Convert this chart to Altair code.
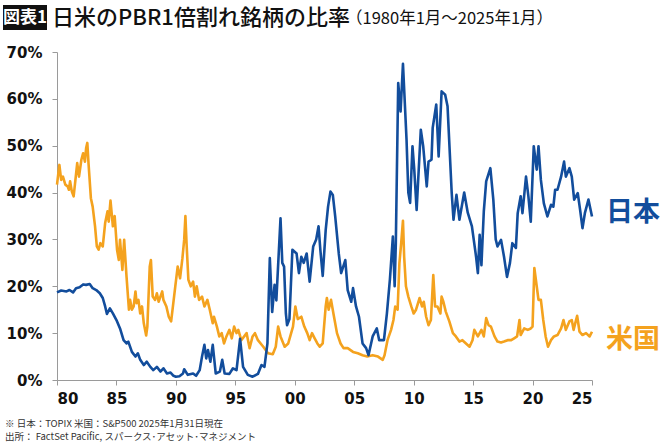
import altair as alt
import pandas as pd

# Share of stocks trading below 1x PBR (%), Japan (TOPIX) and US (S&P500)
jp_t = [1980.0, 1980.35, 1980.8, 1981.05, 1981.35, 1981.6, 1981.9, 1982.2, 1982.45, 1982.75,
        1983.0, 1983.3, 1983.6, 1983.85, 1984.05, 1984.2, 1984.45, 1984.7, 1985.0, 1985.3,
        1985.6, 1985.85, 1986.0, 1986.3, 1986.6, 1986.8, 1987.0, 1987.3, 1987.55, 1987.85,
        1988.1, 1988.4, 1988.7, 1988.95, 1989.25, 1989.55, 1989.8, 1990.0, 1990.3, 1990.6,
        1990.7, 1991.0, 1991.45, 1991.7, 1992.0, 1992.2, 1992.4, 1992.55, 1992.7, 1992.9,
        1993.1, 1993.35, 1993.7, 1993.9, 1994.1, 1994.5, 1994.8, 1995.1, 1995.4, 1995.65,
        1996.05, 1996.45, 1996.9, 1997.2, 1997.45, 1997.7, 1997.9, 1998.1, 1998.3, 1998.45,
        1998.65, 1998.8, 1998.95, 1999.1, 1999.25, 1999.35, 1999.55, 1999.8, 2000.15, 2000.35,
        2000.55, 2000.75, 2001.0, 2001.25, 2001.55, 2001.8, 2002.0, 2002.15, 2002.35, 2002.6,
        2002.8, 2003.0, 2003.2, 2003.4, 2003.7, 2003.9, 2004.25, 2004.45, 2004.75, 2004.9,
        2005.15, 2005.4, 2005.7, 2006.0, 2006.2, 2006.55, 2006.9, 2007.1, 2007.5, 2007.75,
        2008.0, 2008.25, 2008.4, 2008.5, 2008.7, 2008.9, 2009.1, 2009.4, 2009.55, 2009.7,
        2009.9, 2010.05, 2010.25, 2010.6, 2010.8, 2011.1, 2011.25, 2011.5, 2011.6, 2011.9,
        2012.1, 2012.35, 2012.65, 2012.85, 2013.2, 2013.35, 2013.6, 2013.85, 2014.25, 2014.55,
        2014.9, 2015.25, 2015.4, 2015.55, 2015.7, 2015.9, 2016.1, 2016.45, 2016.7, 2016.9,
        2017.05, 2017.35, 2017.6, 2017.85, 2018.1, 2018.3, 2018.6, 2018.75, 2019.0, 2019.15,
        2019.45, 2019.65, 2019.85, 2020.1, 2020.35, 2020.5, 2020.7, 2020.95, 2021.25, 2021.55,
        2021.75, 2021.9, 2022.1, 2022.4, 2022.65, 2022.8, 2023.1, 2023.3, 2023.5, 2023.8,
        2024.0, 2024.2, 2024.4, 2024.7, 2025.0]
jp_v = [18.7, 19.1, 18.9, 19.2, 18.7, 19.6, 19.8, 20.4, 20.3, 20.5,
        19.6, 19.2, 18.5, 17.5, 15.7, 14.1, 15.3, 14.2, 12.8, 11.0,
        8.5, 7.8, 8.2, 6.0, 5.0, 5.7, 4.3, 3.2, 3.9, 2.8,
        2.1, 2.8, 1.8, 2.5, 1.4, 1.6, 0.9, 0.7, 0.8, 1.4,
        2.3, 1.1, 1.4, 0.9, 2.1, 5.0, 7.5, 4.6, 6.4, 3.9,
        7.5, 1.4, 1.8, 4.3, 1.4, 1.3, 2.5, 2.1, 8.8, 2.8,
        1.1, 0.7, 1.3, 3.2, 2.8, 7.8, 26.0, 14.5, 20.3, 17.0,
        27.0, 34.5, 25.0, 24.2, 14.2, 11.7, 13.0, 27.8, 27.0, 22.8,
        26.3, 25.0, 27.0, 21.0, 28.5, 30.0, 32.8, 27.8, 22.2, 32.0,
        37.0, 40.2, 39.5, 34.9, 27.0, 22.8, 25.6, 19.2, 16.7, 19.6,
        15.7, 13.5, 7.8, 6.8, 5.3, 9.3, 11.0, 8.5, 8.5, 14.2,
        21.4, 30.6, 20.0, 29.2, 63.4, 57.3, 67.5, 51.3, 40.0, 37.8,
        49.9, 44.9, 36.3, 53.4, 49.9, 41.3, 46.6, 47.0, 53.8, 58.8,
        47.7, 61.6, 60.9, 58.4, 39.9, 34.2, 39.5, 34.2, 40.0, 35.7,
        32.8, 26.3, 22.8, 31.0, 24.5, 36.0, 42.4, 45.2, 38.5, 30.0,
        28.5, 29.9, 26.3, 22.0, 25.0, 29.2, 28.2, 35.6, 39.2, 35.6,
        43.4, 39.2, 33.8, 49.9, 44.9, 49.9, 42.7, 37.7, 34.9, 37.4,
        37.0, 40.6, 40.6, 43.4, 46.6, 43.4, 45.2, 43.4, 38.5, 39.9,
        36.3, 32.4, 35.6, 38.5, 34.9]

us_t = [1980.0, 1980.15, 1980.2, 1980.35, 1980.5, 1980.7, 1980.9, 1981.0, 1981.1, 1981.25,
        1981.4, 1981.55, 1981.7, 1981.85, 1982.05, 1982.2, 1982.35, 1982.45, 1982.55, 1982.65,
        1982.85, 1983.0, 1983.2, 1983.35, 1983.5, 1983.65, 1983.85, 1984.05, 1984.25, 1984.35,
        1984.5, 1984.7, 1984.85, 1985.05, 1985.2, 1985.3, 1985.5, 1985.65, 1985.85, 1986.05,
        1986.15, 1986.3, 1986.45, 1986.6, 1986.7, 1986.85, 1987.0, 1987.15, 1987.3, 1987.5,
        1987.6, 1987.8, 1987.9, 1988.05, 1988.25, 1988.4, 1988.55, 1988.7, 1988.85, 1988.95,
        1989.2, 1989.4, 1989.6, 1989.75, 1989.95, 1990.15, 1990.35, 1990.55, 1990.7, 1990.8,
        1990.9, 1991.05, 1991.25, 1991.45, 1991.6, 1991.75, 1991.95, 1992.2, 1992.4, 1992.65,
        1992.85, 1993.1, 1993.2, 1993.45, 1993.65, 1993.85, 1994.05, 1994.25, 1994.5, 1994.7,
        1994.9, 1995.1, 1995.25, 1995.5, 1995.95, 1996.2, 1996.45, 1996.65, 1996.9, 1997.35,
        1997.75, 1998.15, 1998.4, 1998.6, 1998.8, 1999.15, 1999.45, 1999.85, 2000.05, 2000.25,
        2000.55, 2000.8, 2001.05, 2001.25, 2001.45, 2001.65, 2001.9, 2002.1, 2002.35, 2002.6,
        2002.7, 2002.85, 2003.05, 2003.25, 2003.55, 2003.85, 2004.1, 2004.45, 2004.9, 2005.3,
        2005.7, 2006.1, 2006.55, 2007.0, 2007.4, 2007.55, 2007.8, 2008.1, 2008.3, 2008.45,
        2008.65, 2008.8, 2008.95, 2009.1, 2009.2, 2009.35, 2009.55, 2009.8, 2010.0, 2010.2,
        2010.5, 2010.7, 2010.85, 2011.05, 2011.25, 2011.45, 2011.65, 2011.8, 2012.0, 2012.25,
        2012.35, 2012.5, 2012.7, 2013.0, 2013.3, 2013.55, 2013.85, 2014.1, 2014.4, 2014.7,
        2014.95, 2015.1, 2015.4, 2015.7, 2015.9, 2016.1, 2016.3, 2016.5, 2016.8, 2017.05,
        2017.35, 2017.6, 2017.9, 2018.2, 2018.45, 2018.7, 2018.9, 2019.0, 2019.3, 2019.6,
        2019.85, 2020.0, 2020.15, 2020.35, 2020.5, 2020.7, 2020.9, 2021.1, 2021.3, 2021.55,
        2021.8, 2022.1, 2022.4, 2022.6, 2022.8, 2023.1, 2023.3, 2023.45, 2023.75, 2023.95,
        2024.2, 2024.5, 2024.8, 2025.0]
us_v = [41.7, 44.9, 45.9, 42.7, 43.4, 41.7, 41.3, 40.6, 42.4, 40.2,
        39.2, 42.7, 46.3, 43.4, 47.0, 48.4, 46.6, 49.5, 50.6, 46.3,
        38.8, 37.0, 32.8, 28.5, 27.8, 29.2, 28.5, 33.5, 36.0, 33.8,
        38.3, 32.8, 35.0, 27.8, 25.6, 29.9, 23.5, 29.9, 22.0, 15.0,
        17.1, 15.0, 15.7, 18.9, 16.4, 17.1, 14.2, 15.7, 12.1, 9.5,
        11.4, 24.2, 25.6, 17.8, 17.1, 18.5, 16.7, 17.8, 18.9, 17.1,
        15.7, 13.5, 12.5, 15.7, 20.0, 24.2, 21.7, 26.0, 30.0, 35.0,
        29.0, 21.4, 20.0, 21.0, 17.8, 20.0, 17.1, 17.8, 15.7, 17.1,
        15.0, 12.1, 13.5, 11.4, 9.3, 10.0, 7.8, 9.3, 10.7, 8.9,
        11.4, 10.0, 10.7, 8.5, 10.0, 6.8, 9.3, 10.0, 8.5, 7.1,
        5.7, 5.5, 7.1, 11.4, 9.3, 7.1, 7.8, 11.4, 15.7, 13.0,
        13.5, 11.4, 10.0, 8.5, 10.0, 9.0, 7.8, 7.1, 7.8, 15.7,
        17.5, 15.0, 17.1, 14.2, 10.0, 7.8, 6.8, 6.8, 6.0, 5.7,
        5.3, 5.0, 5.3, 5.0, 4.3, 5.3, 8.5, 10.7, 12.8, 15.7,
        15.0, 24.9, 29.2, 34.0, 26.3, 20.0, 17.8, 15.7, 14.2, 15.0,
        17.5, 15.7, 16.7, 13.5, 11.7, 12.8, 22.4, 15.7, 15.7, 14.2,
        17.8, 16.7, 14.6, 12.5, 10.0, 9.3, 8.2, 8.5, 7.8, 7.1,
        8.5, 10.7, 9.3, 10.7, 9.3, 13.2, 11.7, 11.4, 9.3, 8.2,
        8.0, 8.2, 8.5, 8.5, 8.9, 9.3, 12.8, 9.6, 11.0, 10.7,
        11.0, 11.4, 23.9, 20.0, 17.1, 17.1, 12.8, 9.3, 7.1, 8.5,
        9.3, 9.6, 11.0, 12.8, 10.7, 12.5, 12.8, 10.7, 13.7, 10.3,
        9.6, 10.0, 9.3, 10.3]

y_ticks = [0, 10, 20, 30, 40, 50, 60, 70]
x_ticks = [1980, 1985, 1990, 1995, 2000, 2005, 2010, 2015, 2020, 2025]

BLUE = "#124d9c"
ORANGE = "#f4a21e"
JP_FONT = "Noto Sans CJK JP"
NUM_FONT = "DejaVu Sans"

W, H = 535, 328

jp = pd.DataFrame({"t": jp_t, "v": jp_v})
us = pd.DataFrame({"t": us_t, "v": us_v})

x_enc = alt.X(
    "t:Q",
    scale=alt.Scale(domain=[1980, 2025], nice=False, zero=False),
    axis=alt.Axis(
        values=x_ticks, title=None, grid=False,
        labelExpr="substring(toString(datum.value), 2, 4)",
        labelFont=NUM_FONT, labelFontSize=15, labelFontWeight="bold", labelColor="#111111",
        labelPadding=6, tickSize=5, tickColor="#9a9a9a", domainColor="#9a9a9a",
    ),
)
y_enc = alt.Y(
    "v:Q",
    scale=alt.Scale(domain=[0, 70], nice=False),
    axis=alt.Axis(
        values=y_ticks, title=None, grid=False,
        labelExpr="datum.value + '%'",
        labelFont=NUM_FONT, labelFontSize=15, labelFontWeight="bold", labelColor="#111111",
        labelPadding=10, tickSize=5, tickColor="#9a9a9a", domainColor="#9a9a9a",
    ),
)

us_line = alt.Chart(us).mark_line(color=ORANGE, strokeWidth=2.6, strokeJoin="round").encode(x=x_enc, y=y_enc)
jp_line = alt.Chart(jp).mark_line(color=BLUE, strokeWidth=2.6, strokeJoin="round").encode(x=x_enc, y=y_enc)


def label(text, x, y, size, color, weight="normal", align="left", font=JP_FONT, baseline="middle"):
    return alt.Chart(pd.DataFrame({"s": [text]})).mark_text(
        font=font, fontSize=size, fontWeight=weight, color=color,
        align=align, baseline=baseline,
    ).encode(x=alt.value(x), y=alt.value(y), text="s:N")


# heading: black tag box, then the title and period
tag_box = alt.Chart(pd.DataFrame({"s": [0]})).mark_rect(color="#111111").encode(
    x=alt.value(-54), x2=alt.value(-10), y=alt.value(-47), y2=alt.value(-22)
)
tag = label("図表1", -32, -34.5, 17, "white", "bold", "center")
title = label("日米のPBR1倍割れ銘柄の比率", -5, -34, 22, "#111111", 500)
period = label("（1980年1月～2025年1月）", 289, -33, 16.5, "#111111")

jp_lab = label("日本", 576, 161, 27, BLUE, "bold", "center")
us_lab = label("米国", 576, 288, 27, ORANGE, "bold", "center")

note1 = label("※ 日本：TOPIX  米国：S&P500  2025年1月31日現在", -52, 372, 9.5, "#333333")
note2 = label("出所：  FactSet Pacific, スパークス･アセット･マネジメント", -52, 385, 9.5, "#333333")

chart = alt.layer(
    us_line, jp_line, tag_box, tag, title, period, jp_lab, us_lab, note1, note2
).properties(
    width=W, height=H,
    padding={"left": 57, "top": 52, "right": 670 - 57 - W, "bottom": 443 - 52 - H},
    autosize=alt.AutoSizeParams(type="none"),
    background="white",
).configure_view(stroke=None)

chart.save("out.html", embed_options={"renderer": "svg", "actions": False})
